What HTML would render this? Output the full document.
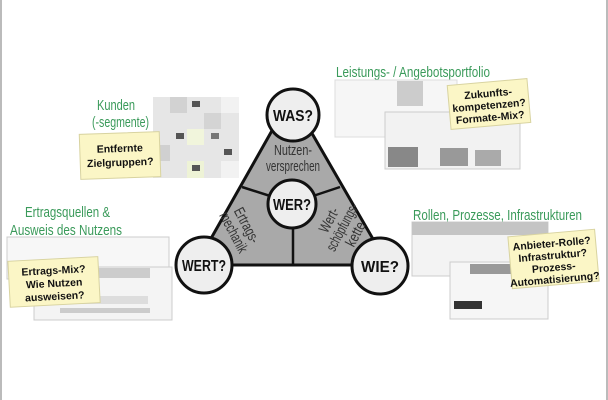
<!DOCTYPE html>
<html><head><meta charset="utf-8"><style>
body{margin:0;background:#fff}
svg{display:block}
.g{fill:#3a9a5a;font-family:"Liberation Sans",sans-serif;font-size:15px}
.s{font-family:"Liberation Sans",sans-serif;font-weight:bold;font-size:10.5px;fill:#111;text-anchor:middle}
.q{font-family:"Liberation Sans",sans-serif;font-weight:bold;font-size:16px;fill:#111;text-anchor:middle}
.t{font-family:"Liberation Sans",sans-serif;font-size:15px;fill:#333;text-anchor:middle}
</style></head><body>
<svg width="608" height="400" viewBox="0 0 608 400">
<rect x="0" y="0" width="608" height="400" fill="#fff"/>
<line x1="1" y1="0" x2="1" y2="400" stroke="#bbb" stroke-width="2"/>
<line x1="607" y1="0" x2="607" y2="400" stroke="#bbb" stroke-width="2"/>

<text class="g" x="97" y="110" textLength="38" lengthAdjust="spacingAndGlyphs">Kunden</text>
<text class="g" x="92" y="127" textLength="57" lengthAdjust="spacingAndGlyphs">(-segmente)</text>
<g>
<rect x="153" y="97" width="86" height="81" fill="#e6e6e6"/>
<rect x="170" y="97" width="17" height="16" fill="#d2d2d2"/><rect x="204" y="113" width="17" height="16" fill="#d4d4d4"/>
<rect x="187" y="129" width="17" height="16" fill="#f1f5dc"/><rect x="153" y="145" width="17" height="16" fill="#d0d0d0"/>
<rect x="187" y="161" width="17" height="17" fill="#eef3d6"/><rect x="221" y="161" width="18" height="17" fill="#f2f2f2"/>
<rect x="221" y="97" width="18" height="16" fill="#f2f2f2"/>
<rect x="192" y="101" width="8" height="6" fill="#555"/><rect x="176" y="133" width="8" height="6" fill="#555"/>
<rect x="211" y="133" width="8" height="6" fill="#777"/><rect x="224" y="149" width="8" height="6" fill="#555"/>
<rect x="192" y="165" width="8" height="6" fill="#555"/>
</g>
<g transform="rotate(-2 120 155)">
<rect x="80" y="133" width="80" height="45" fill="#fbf6c6" stroke="#d8d3a0"/>
<text class="s" x="120" y="152">Entfernte</text>
<text class="s" x="120" y="166">Zielgruppen?</text>
</g>

<text class="g" x="25" y="217" textLength="85" lengthAdjust="spacingAndGlyphs">Ertragsquellen &amp;</text>
<text class="g" x="10" y="235" textLength="112" lengthAdjust="spacingAndGlyphs">Ausweis des Nutzens</text>
<rect x="7" y="237" width="162" height="42" fill="#f7f7f7" stroke="#ccc"/>
<rect x="34" y="267" width="138" height="53" fill="#f4f4f4" stroke="#ccc"/>
<rect x="98" y="268" width="52" height="10" fill="#ccc"/>
<rect x="60" y="296" width="88" height="8" fill="#ddd"/>
<rect x="60" y="308" width="90" height="5" fill="#ccc"/>
<g transform="rotate(-3 53 281)">
<rect x="9" y="259" width="90" height="46" fill="#fbf6c6" stroke="#d8d3a0"/>
<text class="s" x="54" y="274">Ertrags-Mix?</text>
<text class="s" x="54" y="287">Wie Nutzen</text>
<text class="s" x="54" y="300">ausweisen?</text>
</g>

<text class="g" x="336" y="77" textLength="154" lengthAdjust="spacingAndGlyphs">Leistungs- / Angebotsportfolio</text>
<rect x="335" y="80" width="122" height="57" fill="#f6f6f6" stroke="#ddd"/>
<rect x="385" y="112" width="135" height="57" fill="#f2f2f2" stroke="#ccc"/>
<rect x="397" y="81" width="26" height="25" fill="#ccc"/>
<rect x="388" y="147" width="30" height="20" fill="#888"/>
<rect x="440" y="148" width="28" height="18" fill="#999"/>
<rect x="475" y="150" width="26" height="16" fill="#aaa"/>
<g transform="rotate(-5 489 104)">
<rect x="449" y="82" width="80" height="44" fill="#fbf6c6" stroke="#d8d3a0"/>
<text class="s" x="489" y="97">Zukunfts-</text>
<text class="s" x="489" y="109">kompetenzen?</text>
<text class="s" x="489" y="121">Formate-Mix?</text>
</g>

<text class="g" x="413" y="220" textLength="169" lengthAdjust="spacingAndGlyphs">Rollen, Prozesse, Infrastrukturen</text>
<rect x="412" y="222" width="136" height="54" fill="#f3f3f3" stroke="#ccc"/>
<rect x="412" y="222" width="136" height="13" fill="#c4c4c4"/>
<rect x="450" y="262" width="98" height="57" fill="#f6f6f6" stroke="#ccc"/>
<rect x="470" y="264" width="60" height="10" fill="#999"/>
<rect x="454" y="301" width="28" height="8" fill="#333"/>
<g transform="rotate(-5 553 259)">
<rect x="510" y="233" width="87" height="52" fill="#fbf6c6" stroke="#d8d3a0"/>
<text class="s" x="553" y="247">Anbieter-Rolle?</text>
<text class="s" x="553" y="259">Infrastruktur?</text>
<text class="s" x="553" y="271">Prozess-</text>
<text class="s" x="553" y="283">Automatisierung?</text>
</g>

<polygon points="291,97 196,265 388,265" fill="#a9a9a9" stroke="#111" stroke-width="3" stroke-linejoin="round"/>
<line x1="242" y1="187" x2="292" y2="203" stroke="#111" stroke-width="2.5"/>
<line x1="340" y1="187" x2="292" y2="203" stroke="#111" stroke-width="2.5"/>
<line x1="293" y1="203" x2="293" y2="265" stroke="#111" stroke-width="2.5"/>
<text class="t" x="293" y="155" textLength="38" lengthAdjust="spacingAndGlyphs">Nutzen-</text>
<text class="t" x="293" y="171" textLength="54" lengthAdjust="spacingAndGlyphs">versprechen</text>
<g transform="translate(238,230) rotate(62)">
<text class="t" x="0" y="-5" textLength="38" lengthAdjust="spacingAndGlyphs">Ertrags-</text><text class="t" x="0" y="10" textLength="44" lengthAdjust="spacingAndGlyphs">mechanik</text></g>
<g transform="translate(344,228) rotate(-62)">
<text class="t" x="0" y="-12" textLength="26" lengthAdjust="spacingAndGlyphs">Wert-</text><text class="t" x="0" y="3" textLength="52" lengthAdjust="spacingAndGlyphs">schöpfungs-</text><text class="t" x="0" y="18" textLength="26" lengthAdjust="spacingAndGlyphs">kette</text></g>

<circle cx="293" cy="115" r="26" fill="#eee" stroke="#111" stroke-width="3"/>
<text class="q" x="293" y="121" textLength="40" lengthAdjust="spacingAndGlyphs">WAS?</text>
<circle cx="292" cy="204" r="24" fill="#eee" stroke="#111" stroke-width="3"/>
<text class="q" x="292" y="210" textLength="38" lengthAdjust="spacingAndGlyphs">WER?</text>
<circle cx="204" cy="265" r="28" fill="#eee" stroke="#111" stroke-width="3"/>
<text class="q" x="204" y="271" textLength="44" lengthAdjust="spacingAndGlyphs">WERT?</text>
<circle cx="380" cy="266" r="28" fill="#eee" stroke="#111" stroke-width="3"/>
<text class="q" x="380" y="272" textLength="38" lengthAdjust="spacingAndGlyphs">WIE?</text>
</svg>
</body></html>
